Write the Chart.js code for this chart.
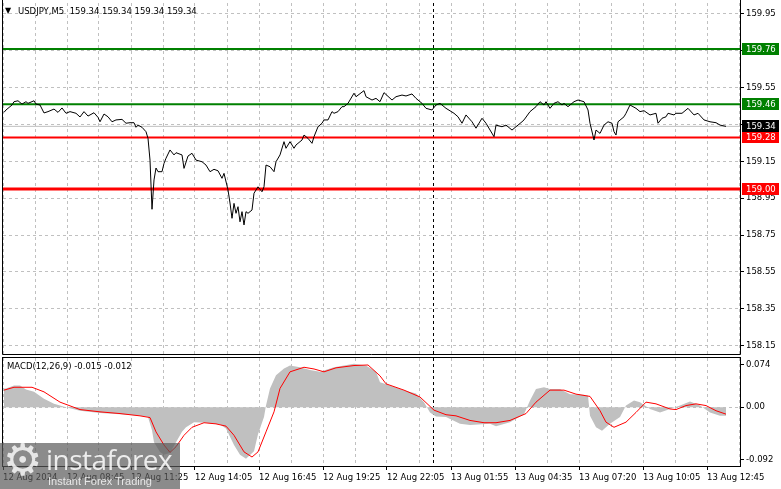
<!DOCTYPE html>
<html><head><meta charset="utf-8">
<script src="https://cdn.jsdelivr.net/npm/chart.js@4.4.1/dist/chart.umd.min.js"></script>
<style>
html,body{margin:0;padding:0;background:#fff;width:781px;height:489px;overflow:hidden;position:relative;font-family:"DejaVu Sans",sans-serif;}
canvas{position:absolute;left:0;}
#c1{top:0;}
#c2{top:356px;}
.hdr{position:absolute;font-size:8.5px;color:#000;white-space:pre;line-height:12px;}
#wm{position:absolute;left:0;top:443px;width:180px;height:46px;background:rgba(90,90,90,0.7);overflow:hidden;}
#wmGear{position:absolute;left:3px;top:-7px;font-size:44px;line-height:48px;color:rgba(255,255,255,0.8);font-family:"DejaVu Sans";}
#wmName{position:absolute;left:46px;top:0px;font-size:28px;line-height:32px;color:rgba(255,255,255,0.85);font-family:"Open Sans",sans-serif;letter-spacing:-0.5px;}
#wmSub{position:absolute;left:48px;top:32px;font-size:11px;line-height:13px;color:rgba(255,255,255,0.8);font-family:"Liberation Sans",sans-serif;}
</style></head>
<body>
<canvas id="c1" width="781" height="356"></canvas>
<canvas id="c2" width="781" height="133"></canvas>
<div class="hdr" style="left:5px;top:5px;font-size:8px;">▼</div>
<div class="hdr" style="left:18px;top:5px;">USDJPY,M5  159.34 159.34 159.34 159.34</div>
<div class="hdr" style="left:7px;top:360px;">MACD(12,26,9) -0.015 -0.012</div>
<div id="wm"><div id="wmGear">⚙</div><div id="wmName">instaforex</div><div id="wmSub">Instant Forex Trading</div></div>
<script>
// ---------- data ----------
const priceBars = [0,1,4,5,7,9,11,12,15,16,18,20,22,25,27,29,31,33,36,38,40,42,45,47,48,50,52,54,56,59,61,63,65,66,67,69,71,72,73,74,75,76,77,79,80,81,83,85,86,89,90,92,94,96,99,101,103,105,107,109,110,112,113,114,115,116,117,118,119,120,121,122,124,125,127,129,130,131,133,135,136,138,140,141,143,145,146,149,150,152,154,155,157,159,160,162,164,165,167,169,170,172,175,176,180,181,184,186,188,190,194,196,199,201,204,206,209,211,214,216,218,221,225,227,229,231,234,236,239,241,245,246,249,251,254,256,259,260,263,266,268,270,271,273,275,277,279,280,282,285,287,290,292,293,295,296,298,300,302,304,305,306,307,310,311,313,316,318,320,323,326,327,329,331,332,335,336,339,340,342,345,347,350,353,356,358,361];
const priceValues = [159.416,159.429,159.456,159.474,159.479,159.461,159.474,159.465,159.479,159.461,159.456,159.413,159.420,159.434,159.416,159.440,159.411,159.420,159.411,159.391,159.420,159.396,159.414,159.389,159.365,159.407,159.392,159.365,159.375,159.378,159.357,159.360,159.360,159.335,159.347,159.335,159.311,159.275,159.157,158.890,159.049,159.114,159.094,159.094,159.139,159.167,159.212,159.185,159.197,159.185,159.112,159.179,159.194,159.157,159.148,159.130,159.094,159.107,159.099,159.058,159.085,158.995,158.924,158.841,158.922,158.868,158.904,158.822,158.877,158.805,158.877,158.868,158.886,158.977,159.012,158.985,159.012,159.130,159.121,159.094,159.148,159.185,159.257,159.221,159.257,159.221,159.239,159.266,159.293,159.275,159.248,159.284,159.338,159.357,159.375,159.375,159.420,159.411,159.420,159.447,159.447,159.465,159.520,159.501,159.534,159.501,159.483,159.492,159.474,159.523,159.483,159.501,159.510,159.505,159.516,159.492,159.465,159.438,159.429,159.456,159.465,159.438,159.411,159.392,159.357,159.402,159.365,159.330,159.384,159.357,159.284,159.347,159.338,159.347,159.320,159.338,159.365,159.375,159.420,159.447,159.474,159.456,159.474,159.438,159.465,159.474,159.456,159.465,159.447,159.474,159.483,159.474,159.429,159.357,159.266,159.320,159.302,159.347,159.365,159.357,159.311,159.293,159.365,159.392,159.411,159.456,159.438,159.420,159.425,159.402,159.411,159.357,159.384,159.392,159.411,159.402,159.411,159.411,159.420,159.438,159.402,159.411,159.375,159.365,159.360,159.347,159.340];

const histBars = [0,1,5,8,11,15,20,25,31,38,48,58,68,72,74,75,78,80,83,86,89,91,95,101,108,111,115,118,121,125,127,130,131,133,136,140,143,148,153,158,165,175,181,186,188,193,200,206,210,213,216,221,228,233,243,246,253,260,263,266,270,273,278,283,290,292,293,296,299,303,308,311,315,318,323,328,333,338,343,348,353,358,361];
const histValues = [0.033,0.033,0.038,0.038,0.031,0.027,0.015,0.006,0.000,-0.006,-0.010,-0.012,-0.015,-0.017,-0.040,-0.061,-0.078,-0.083,-0.080,-0.061,-0.043,-0.035,-0.026,-0.027,-0.030,-0.037,-0.066,-0.083,-0.090,-0.077,-0.047,-0.017,0.003,0.033,0.056,0.068,0.073,0.070,0.065,0.062,0.070,0.076,0.073,0.062,0.044,0.038,0.030,0.024,0.009,-0.009,-0.016,-0.017,-0.029,-0.031,-0.029,-0.033,-0.026,-0.012,0.012,0.032,0.035,0.032,0.032,0.023,0.022,0.020,-0.015,-0.035,-0.041,-0.029,-0.017,0.003,0.012,0.009,-0.003,-0.009,-0.003,0.003,0.010,0.003,-0.009,-0.015,-0.015];

const signalBars = [0,5,14,20,28,38,48,58,68,73,76,80,83,86,90,94,100,106,111,115,120,124,127,131,135,138,143,150,155,160,166,175,182,188,191,200,208,215,221,226,233,240,246,253,261,266,273,280,286,293,298,301,305,311,316,321,326,333,336,341,346,351,356,361];
const signalValues = [0.030,0.035,0.035,0.027,0.009,-0.004,-0.008,-0.011,-0.015,-0.018,-0.043,-0.066,-0.079,-0.069,-0.049,-0.035,-0.027,-0.029,-0.033,-0.049,-0.078,-0.087,-0.078,-0.043,-0.008,0.033,0.062,0.070,0.067,0.062,0.069,0.073,0.074,0.055,0.041,0.030,0.018,-0.005,-0.013,-0.015,-0.023,-0.027,-0.027,-0.023,-0.011,0.009,0.030,0.030,0.023,0.019,-0.006,-0.026,-0.035,-0.026,-0.009,0.009,0.006,-0.003,-0.004,0.003,0.006,0.003,-0.006,-0.012];

const levelValues = [159.76, 159.46, 159.28, 159.00];
const currentPrice = 159.34;
const priceTicks = [159.95,159.75,159.55,159.35,159.15,158.95,158.75,158.55,158.35,158.15];
const macdTicks = [0.074, 0.00, -0.092];
const macdTickLabels = ['0.074','0.00','-0.092'];
const timeLabels = ['12 Aug 2024','12 Aug 08:45','12 Aug 11:25','12 Aug 14:05','12 Aug 16:45','12 Aug 19:25','12 Aug 22:05','13 Aug 01:55','13 Aug 04:35','13 Aug 07:20','13 Aug 10:05','13 Aug 12:45'];
const separatorBar = 214.5;

// ---------- styles / layout ----------
const levelColors = ['#008000','#008000','#ff0000','#ff0000'];
const levelWidths = [2,2,2,3];
const GRID = '#c0c0c0';
const X_MIN = -0.5, X_MAX = 368, GRID_STEP = 16;
Chart.defaults.font.family = '"DejaVu Sans", sans-serif';
Chart.defaults.font.size = 8.5;
Chart.defaults.color = '#000';
Chart.defaults.animation = false;

const pts = (xs, ys) => xs.map((x,i)=>({x, y: ys[i]}));
const gridTicks = () => { const t=[]; for (let v=X_MIN; v<=X_MAX; v+=GRID_STEP) t.push({value:v}); return t; };
const noPad = s => { s.paddingTop = 0; s.paddingBottom = 0; s.paddingLeft = 0; s.paddingRight = 0; };

function drawSeparator(chart){
  const ctx=chart.ctx, a=chart.chartArea, xs=chart.scales.x;
  const sx = Math.round(xs.getPixelForValue(separatorBar))+0.5;
  ctx.save(); ctx.strokeStyle='#000'; ctx.lineWidth=1; ctx.setLineDash([3,3]);
  ctx.beginPath(); ctx.moveTo(sx,a.top); ctx.lineTo(sx,a.bottom); ctx.stroke(); ctx.restore();
}

const mainDecor = {
  id:'mainDecor',
  beforeDatasetsDraw(chart){ drawSeparator(chart); },
  afterDraw(chart){
    const ctx=chart.ctx, a=chart.chartArea, ys=chart.scales.y;
    ctx.save();
    ctx.strokeStyle='#000'; ctx.lineWidth=1;
    ctx.beginPath();
    ctx.moveTo(a.left-0.5, 0); ctx.lineTo(a.left-0.5, a.bottom+0.5);
    ctx.lineTo(a.right+0.5, a.bottom+0.5); ctx.lineTo(a.right+0.5, 0);
    ctx.stroke();
    const boxes = levelValues.map((v,i)=>({v, c: levelColors[i]})).concat([{v: currentPrice, c:'#000'}]);
    ctx.font = '8.5px "DejaVu Sans"'; ctx.textBaseline='middle'; ctx.textAlign='left';
    boxes.forEach(b=>{
      const py = Math.round(ys.getPixelForValue(b.v));
      ctx.fillStyle=b.c; ctx.fillRect(a.right+2, py-6, 37, 12);
      ctx.fillStyle='#fff'; ctx.fillText(b.v.toFixed(2), a.right+6, py+0.5);
    });
    ctx.restore();
  }
};

const macdDecor = {
  id:'macdDecor',
  beforeDatasetsDraw(chart){ drawSeparator(chart); },
  afterDraw(chart){
    const ctx=chart.ctx, a=chart.chartArea;
    ctx.save(); ctx.strokeStyle='#000'; ctx.lineWidth=1;
    ctx.strokeRect(a.left-0.5, a.top-0.5, a.right-a.left+1, a.bottom-a.top+1);
    ctx.restore();
  }
};

// ---------- main price chart ----------
new Chart(document.getElementById('c1'), {
  type:'line',
  data:{ datasets:[
    { data: pts(priceBars, priceValues), borderColor:'#000', borderWidth:1, pointRadius:0, tension:0 },
    ...levelValues.map((v,i)=>({ data:[{x:X_MIN,y:v},{x:X_MAX,y:v}], borderColor:levelColors[i], borderWidth:levelWidths[i], pointRadius:0 })),
    { data:[{x:X_MIN,y:currentPrice},{x:X_MAX,y:currentPrice}], borderColor:'#c0c0c0', borderWidth:1, pointRadius:0 }
  ]},
  options:{
    responsive:false, animation:false, events:[],
    layout:{ padding:{left:3, top:3, right:0, bottom:2} },
    plugins:{ legend:{display:false}, tooltip:{enabled:false} },
    scales:{
      x:{ type:'linear', min:X_MIN, max:X_MAX,
          afterBuildTicks: s => { s.ticks = gridTicks(); },
          afterFit: s => { s.height = 0; noPad(s); },
          ticks:{ display:false },
          grid:{ color:GRID, drawTicks:false, lineWidth:1 },
          border:{ display:false, dash:[3,3] } },
      y:{ type:'linear', position:'right', min:158.1044, max:160.0097,
          afterBuildTicks: s => { s.ticks = priceTicks.map(v=>({value:v})); },
          afterFit: s => { s.width = 41; noPad(s); },
          ticks:{ callback: v => Number(v).toFixed(2), padding:2, color:'#000', autoSkip:false },
          grid:{ color:GRID, tickColor:'#000', tickLength:4, lineWidth:1 },
          border:{ display:false, dash:[3,3] } }
    }
  },
  plugins:[mainDecor]
});

// ---------- MACD chart ----------
new Chart(document.getElementById('c2'), {
  type:'line',
  data:{ datasets:[
    { data: pts(signalBars, signalValues), borderColor:'#ff0000', borderWidth:1, pointRadius:0, tension:0 },
    { data: pts(histBars, histValues), borderColor:'rgba(0,0,0,0)', borderWidth:0, backgroundColor:'#c0c0c0', fill:'origin', pointRadius:0, tension:0 }
  ]},
  options:{
    responsive:false, animation:false, events:[],
    layout:{ padding:{left:3, top:2, right:0, bottom:2} },
    plugins:{ legend:{display:false}, tooltip:{enabled:false} },
    scales:{
      x:{ type:'linear', min:X_MIN, max:X_MAX,
          afterBuildTicks: s => { s.ticks = gridTicks(); },
          afterFit: s => { s.height = 21; noPad(s); },
          ticks:{ autoSkip:false, maxRotation:0, minRotation:0, align:'start', padding:3, color:'#000',
                  callback: (v, i) => (i % 2 === 0 && timeLabels[i/2]) ? timeLabels[i/2] : '' },
          grid:{ color:GRID, lineWidth:1, tickLength:4,
                 tickColor: c => (c.index % 2 === 0) ? '#000' : 'rgba(0,0,0,0)' },
          border:{ display:false, dash:[3,3] } },
      y:{ type:'linear', position:'right', min:-0.1027, max:0.0862,
          afterBuildTicks: s => { s.ticks = macdTicks.map(v=>({value:v})); },
          afterFit: s => { s.width = 41; noPad(s); },
          ticks:{ callback: (v, i) => macdTickLabels[i], padding:2, color:'#000', autoSkip:false },
          grid:{ color: c => (c.tick && c.tick.value === 0) ? GRID : 'rgba(0,0,0,0)', tickColor:'#000', tickLength:4, lineWidth:1 },
          border:{ display:false, dash:[3,3] } }
    }
  },
  plugins:[macdDecor]
});
</script>
</body></html>
